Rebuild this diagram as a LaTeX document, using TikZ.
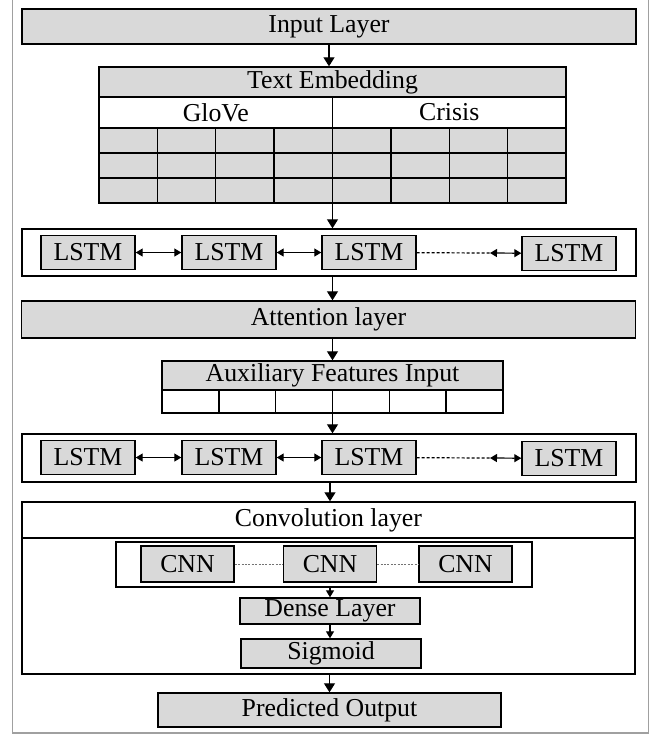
\documentclass[tikz,border=0pt]{standalone}
\usepackage{fontspec}
\setmainfont{Liberation Serif}
\usetikzlibrary{arrows.meta}
\definecolor{boxgray}{RGB}{217,217,217}
\definecolor{framegray}{RGB}{160,160,160}
\tikzstyle{layer} = [rectangle, draw=black, fill=boxgray, line width=0.7pt, inner sep=0pt, text centered, font=\fontsize{12.9}{15}\selectfont]
\tikzstyle{whitebox} = [layer, fill=white]
\tikzstyle{lstm} = [layer, minimum width=47pt, minimum height=17pt]
\tikzstyle{cnn} = [layer, minimum width=46.5pt, minimum height=18pt]
\tikzstyle{rowframe} = [rectangle, draw=black, line width=0.7pt, inner sep=0pt]
\tikzstyle{arrow} = [line width=0.6pt, -{Triangle[width=5.5pt,length=4.5pt]}]
\tikzstyle{small arrow} = [line width=0.6pt, -{Triangle[width=4pt,length=3.5pt]}]
\tikzstyle{darrow} = [line width=0.6pt, {Triangle[width=4pt,length=3.5pt]}-{Triangle[width=4pt,length=3.5pt]}]
\tikzstyle{lstmdash} = [line width=0.6pt, dash pattern=on 1.5pt off 1pt]
\tikzstyle{cnndots} = [line width=0.5pt, black!55, dash pattern=on 1pt off 0.7pt]

\begin{document}
\begin{tikzpicture}[x=0.5pt, y=-0.5pt]
\useasboundingbox (0,0) rectangle (662,735);
\draw[framegray, line width=0.75pt] (12.7,-5) rectangle (648.3,733);

% input and embedding
\node (inlayer)[layer, minimum width=307pt, minimum height=17.5pt] at (329,26.5) {Input Layer};
\node (embhead)[layer, minimum width=233.5pt, minimum height=15pt] at (332.5,82) {Text Embedding};
\node (glove)[whitebox, minimum width=116.75pt, minimum height=15.5pt] at (215.75,112.5) {GloVe};
\node (crisis)[whitebox, minimum width=116.75pt, minimum height=15.5pt] at (449.25,112.5) {Crisis};
\node (embgrid)[layer, minimum width=233.5pt, minimum height=37.5pt] at (332.5,165.5) {};
\foreach \k in {1,...,7}
  \draw[line width=0.7pt] ({99+\k*58.375},128) -- ({99+\k*58.375},203);
\foreach \r in {153,178}
  \draw[line width=0.7pt] (99,\r) -- (566,\r);

% first lstm row
\node (rnnA)[rowframe, minimum width=307pt, minimum height=23.5pt] at (329,252.5) {};
\node (lstmA1)[lstm] at (88,252.5) {LSTM};
\node (lstmA2)[lstm] at (229,252.5) {LSTM};
\node (lstmA3)[lstm] at (369,252.5) {LSTM};
\node (lstmA4)[lstm] at (569,253.5) {LSTM};
\coordinate (gapA) at (490,253);

% attention and auxiliary features
\node (attention)[layer, minimum width=307pt, minimum height=18.5pt] at (328.5,319.5) {Attention layer};
\node (auxhead)[layer, minimum width=170.5pt, minimum height=14.5pt] at (332.5,375.5) {Auxiliary Features Input};
\node (auxcells)[whitebox, minimum width=170.5pt, minimum height=11.5pt] at (332.5,401.5) {};
\foreach \k in {1,...,5}
  \draw[line width=0.7pt] ({162+\k*56.83},390) -- ({162+\k*56.83},413);

% second lstm row
\node (rnnB)[rowframe, minimum width=307pt, minimum height=24pt] at (329,458) {};
\node (lstmB1)[lstm] at (88,457.5) {LSTM};
\node (lstmB2)[lstm] at (229,457.5) {LSTM};
\node (lstmB3)[lstm] at (369,457.5) {LSTM};
\node (lstmB4)[lstm] at (569,458.5) {LSTM};
\coordinate (gapB) at (490,458);

% convolution block
\node (convbox)[rowframe, minimum width=306.5pt, minimum height=86pt] at (328.5,588) {};
\node (convhead)[whitebox, minimum width=306.5pt, minimum height=18pt] at (328.5,520) {Convolution layer};
\node (cnnbox)[rowframe, minimum width=208pt, minimum height=22.5pt] at (324,564.5) {};
\node (cnn1)[cnn] at (187.5,564) {CNN};
\node (cnn2)[cnn] at (330,564) {CNN};
\node (cnn3)[cnn] at (465.5,564) {CNN};
\node (dense)[layer, minimum width=90pt, minimum height=13pt] at (330,611) {Dense Layer};
\node (sigmoid)[layer, minimum width=90pt, minimum height=14.5pt] at (331,653.5) {Sigmoid};
\node (output)[layer, minimum width=171.5pt, minimum height=17pt] at (329.5,710) {Predicted Output};

% connectors
\draw[arrow] (inlayer) -- (inlayer |- embhead.north);
\draw[arrow] (embgrid) -- (embgrid |- rnnA.north);
\draw[darrow] (lstmA1) -- (lstmA2);
\draw[darrow] (lstmA2) -- (lstmA3);
\draw[lstmdash] (lstmA3) -- (gapA);
\draw[darrow] (gapA) -- (lstmA4);
\draw[arrow] (rnnA.south -| auxhead) -- (attention.north -| auxhead);
\draw[arrow] (attention.south -| auxhead) -- (auxhead);
\draw[arrow] (auxcells) -- (auxcells |- rnnB.north);
\draw[darrow] (lstmB1) -- (lstmB2);
\draw[darrow] (lstmB2) -- (lstmB3);
\draw[lstmdash] (lstmB3) -- (gapB);
\draw[darrow] (gapB) -- (lstmB4);
\draw[arrow] (rnnB.south -| dense) -- (dense |- convhead.north);
\draw[cnndots] (cnn1) -- (cnn2);
\draw[cnndots] (cnn2) -- (cnn3);
\draw[small arrow] (cnnbox.south -| dense) -- (dense);
\draw[small arrow] (dense) -- (dense |- sigmoid.north);
\draw[arrow] (convbox.south -| output) -- (output);
\end{tikzpicture}
\end{document}
